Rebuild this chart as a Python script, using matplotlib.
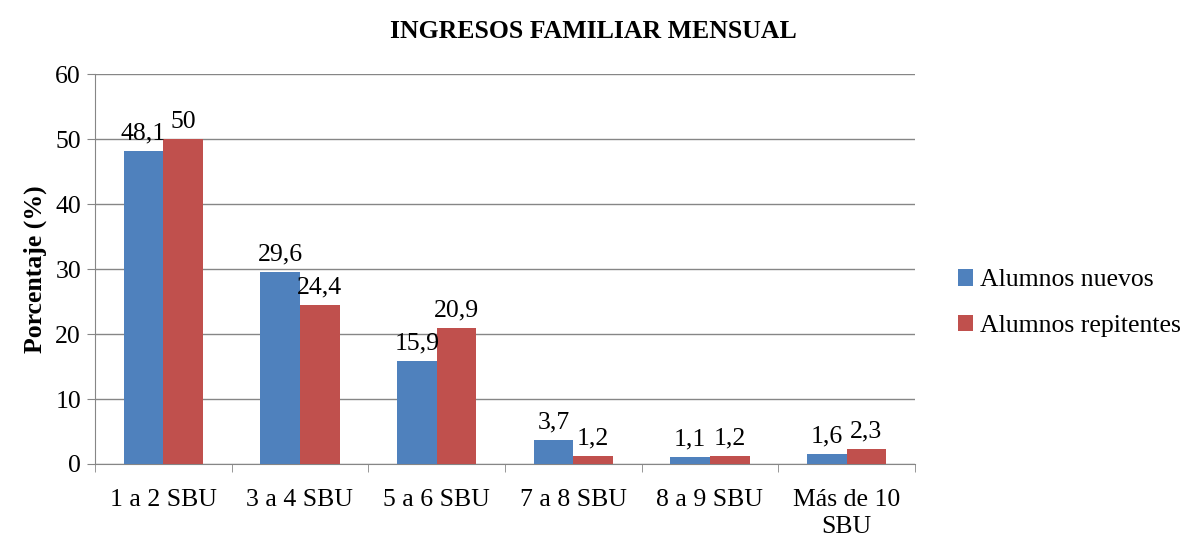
import matplotlib
matplotlib.use("Agg")
import matplotlib.pyplot as plt
import numpy as np

categories = ["1 a 2 SBU", "3 a 4 SBU", "5 a 6 SBU", "7 a 8 SBU", "8 a 9 SBU", "Más de 10\nSBU"]
nuevos = [48.1, 29.6, 15.9, 3.7, 1.1, 1.6]
repitentes = [50, 24.4, 20.9, 1.2, 1.2, 2.3]
nuevos_labels = ["48,1", "29,6", "15,9", "3,7", "1,1", "1,6"]
repitentes_labels = ["50", "24,4", "20,9", "1,2", "1,2", "2,3"]
yticks = [0, 10, 20, 30, 40, 50, 60]

plt.rcParams['font.family'] = ['Liberation Serif', 'DejaVu Serif']
FS = 18.5

fig = plt.figure(figsize=(11.87, 5.39), dpi=100)
ax = fig.add_axes([95/1187, 1-464/539, 820/1187, 390/539])

x = np.arange(len(categories))
w = 0.29
b1 = ax.bar(x - w/2, nuevos, w, color="#4F81BD", label="Alumnos nuevos", zorder=3)
b2 = ax.bar(x + w/2, repitentes, w, color="#C0504D", label="Alumnos repitentes", zorder=3)

for rect, lab in zip(b1, nuevos_labels):
    ax.text(rect.get_x() + rect.get_width()/2, rect.get_height() + 1.0, lab,
            ha="center", va="bottom", fontsize=FS)
for rect, lab in zip(b2, repitentes_labels):
    ax.text(rect.get_x() + rect.get_width()/2, rect.get_height() + 1.0, lab,
            ha="center", va="bottom", fontsize=FS)

ax.set_xlim(-0.5, len(categories) - 0.5)
ax.set_ylim(0, 60)
ax.set_yticks(yticks)
ax.set_yticklabels([str(v) for v in yticks], fontsize=FS)
ax.yaxis.grid(True, color="#868686", linewidth=1, zorder=0)
ax.set_axisbelow(True)

ax.set_xticks(x)
ax.set_xticklabels(categories, fontsize=FS, linespacing=1.3)
ax.tick_params(axis="x", length=0, pad=18)
ax.set_xticks(np.arange(-0.5, len(categories), 1), minor=True)
ax.tick_params(axis="x", which="minor", length=6, color="#868686")
ax.tick_params(axis="y", length=6, color="#868686", pad=4)

for s in ["top", "right"]:
    ax.spines[s].set_visible(False)
ax.spines["left"].set_color("#868686")
ax.spines["bottom"].set_color("#868686")

ax.set_ylabel("Porcentaje (%)", fontsize=FS, fontweight="bold", labelpad=6)
fig.text(593/1187, 1-31/539, "INGRESOS FAMILIAR MENSUAL", ha="center", va="center",
         fontsize=FS, fontweight="bold")

leg = fig.legend(handles=[b1, b2], loc="center left", bbox_to_anchor=(958/1187, 1-303/539),
                 frameon=False, fontsize=FS, handlelength=0.6, handleheight=0.6,
                 handletextpad=0.25, labelspacing=0.9, borderpad=0, borderaxespad=0)

fig.savefig("out.png", dpi=100)
